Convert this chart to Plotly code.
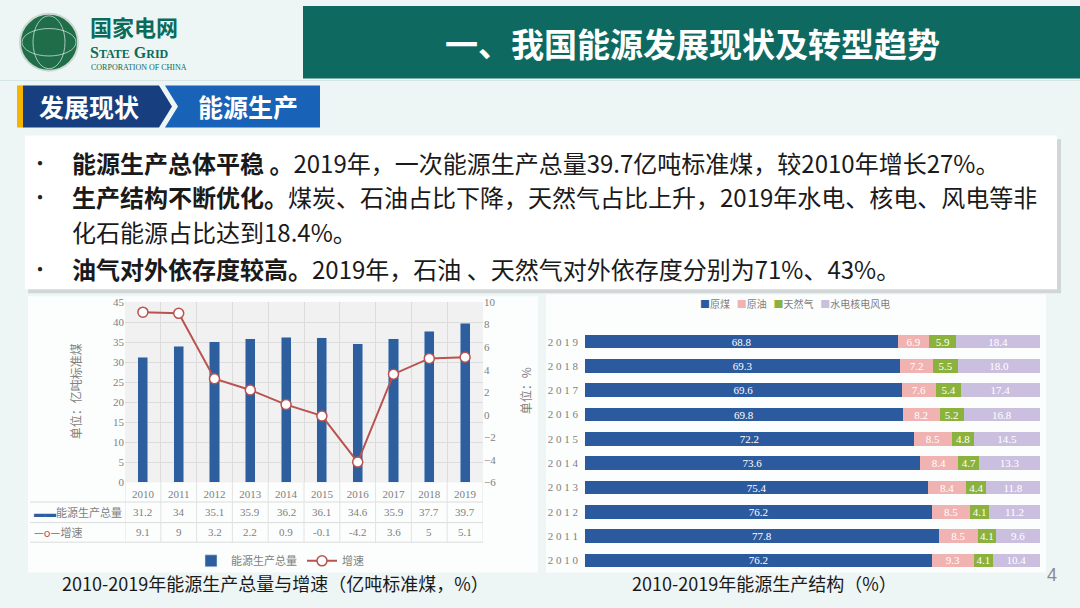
import plotly.graph_objects as go

# left chart: total primary energy production and growth
years = ["2010", "2011", "2012", "2013", "2014", "2015", "2016", "2017", "2018", "2019"]
output = [31.2, 34, 35.1, 35.9, 36.2, 36.1, 34.6, 35.9, 37.7, 39.7]
growth = [9.1, 9, 3.2, 2.2, 0.9, -0.1, -4.2, 3.6, 5, 5.1]

# right chart: production structure (%)
coal = [76.2, 77.8, 76.2, 75.4, 73.6, 72.2, 69.8, 69.6, 69.3, 68.8]
oil = [9.3, 8.5, 8.5, 8.4, 8.4, 8.5, 8.2, 7.6, 7.2, 6.9]
gas = [4.1, 4.1, 4.1, 4.4, 4.7, 4.8, 5.2, 5.4, 5.5, 5.9]
clean = [10.4, 9.6, 11.2, 11.8, 13.3, 14.5, 16.8, 17.4, 18.0, 18.4]

W, H = 1080, 608
def X(px):
    return px / W
def Y(py):
    return 1 - py / H

CJK = "Noto Sans CJK SC"
SERIF = "Liberation Serif, Noto Sans CJK SC"
GRAY = "#7f7f7f"

fig = go.Figure()

# --- left chart ---
fig.add_trace(go.Bar(
    x=years, y=output, name="能源生产总量",
    marker=dict(color="#2d5e9e"), width=0.28,
    xaxis="x", yaxis="y", legend="legend",
))
fig.add_trace(go.Scatter(
    x=years, y=growth, name="增速", mode="lines+markers",
    line=dict(color="#b9534f", width=2),
    marker=dict(symbol="circle", size=10, color="white",
                line=dict(color="#b9534f", width=1.5)),
    xaxis="x", yaxis="y2", legend="legend",
))

# --- right chart ---
segs = [("原煤", coal, "#2c5a9e"), ("原油", oil, "#f1b3b2"),
        ("天然气", gas, "#8bb23d"), ("水电核电风电", clean, "#cbbfe0")]
for name, vals, col in segs:
    fig.add_trace(go.Bar(
        y=years, x=vals, name=name, orientation="h",
        marker=dict(color=col, line=dict(width=0)), width=0.56,
        texttemplate="%{x:.1f}", textposition="inside", insidetextanchor="middle",
        constraintext="none",
        textfont=dict(family=SERIF, size=11, color="white"),
        xaxis="x3", yaxis="y3", showlegend=False,
    ))

shapes = []
ann = []

# slide decorations: header band
shapes.append(dict(type="rect", xref="paper", yref="paper", x0=X(303), x1=X(1080),
                   y0=Y(74), y1=Y(0), fillcolor="#0e6a61", line=dict(width=0), layer="below"))
shapes.append(dict(type="line", xref="paper", yref="paper", x0=0, x1=1, y0=Y(76), y1=Y(76),
                   line=dict(color="#d6e6e6", width=1), layer="below"))
ann.append(dict(text="<b>一、我国能源发展现状及转型趋势</b>", x=X(692), y=Y(38),
                font=dict(family=CJK, size=33, color="white")))

# logo
shapes.append(dict(type="circle", xref="paper", yref="paper", x0=X(20), x1=X(78), y0=Y(66), y1=Y(8),
                   fillcolor="#1f6e49", line=dict(color="#c9d9cf", width=2)))
shapes.append(dict(type="circle", xref="paper", yref="paper", x0=X(33), x1=X(65), y0=Y(64), y1=Y(10),
                   line=dict(color="rgba(255,255,255,0.6)", width=1)))
shapes.append(dict(type="circle", xref="paper", yref="paper", x0=X(22), x1=X(76), y0=Y(51), y1=Y(23),
                   line=dict(color="rgba(255,255,255,0.6)", width=1)))
ann.append(dict(text="<b>国家电网</b>", x=X(88), y=Y(20), xanchor="left",
                font=dict(family=CJK, size=22, color="#0b6b5a")))
ann.append(dict(text="<b>S<span style='font-size:12px'>TATE</span> G<span style='font-size:12px'>RID</span></b>",
                x=X(88), y=Y(47), xanchor="left",
                font=dict(family="Liberation Serif", size=16, color="#0b6b5a")))
ann.append(dict(text="CORPORATION OF CHINA", x=X(89), y=Y(63), xanchor="left",
                font=dict(family="Liberation Serif", size=8, color="#0b6b5a")))

# section tab
shapes.append(dict(type="rect", xref="paper", yref="paper", x0=X(17), x1=X(23), y0=Y(124), y1=Y(81),
                   fillcolor="#f4b400", line=dict(width=0)))
def path(pts):
    return "M " + " L ".join(f"{X(a):.5f},{Y(b):.5f}" for a, b in pts) + " Z"
shapes.append(dict(type="path", xref="paper", yref="paper",
                   path=path([(23, 81), (159, 81), (172, 102.5), (159, 124), (23, 124)]),
                   fillcolor="#173f7f", line=dict(width=0)))
shapes.append(dict(type="path", xref="paper", yref="paper",
                   path=path([(165, 81), (320, 81), (320, 124), (165, 124), (178, 102.5)]),
                   fillcolor="#1862b8", line=dict(width=0)))
ann.append(dict(text="<b>发展现状</b>", x=X(89), y=Y(102),
                font=dict(family=CJK, size=25, color="white")))
ann.append(dict(text="<b>能源生产</b>", x=X(248), y=Y(102),
                font=dict(family=CJK, size=25, color="white")))

# text box
shapes.append(dict(type="rect", xref="paper", yref="paper", x0=X(28), x1=X(1061), y0=Y(293), y1=Y(136),
                   fillcolor="rgba(0,0,0,0.12)", line=dict(width=0)))
shapes.append(dict(type="rect", xref="paper", yref="paper", x0=X(25), x1=X(1057), y0=Y(289), y1=Y(132),
                   fillcolor="white", line=dict(width=0)))
lines = [
    (160, True, "<b>能源生产总体平稳 。</b>2019年，一次能源生产总量39.7亿吨标准煤，较2010年增长27%。"),
    (194, True, "<b>生产结构不断优化。</b>煤炭、石油占比下降，天然气占比上升，2019年水电、核电、风电等非"),
    (230, False, "化石能源占比达到18.4%。"),
    (268, True, "<b>油气对外依存度较高。</b>2019年，石油 、天然气对外依存度分别为71%、43%。"),
]
for yy, bullet, txt in lines:
    if bullet:
        ann.append(dict(text="•", x=X(40), y=Y(yy),
                        font=dict(family=CJK, size=20, color="#222")))
    ann.append(dict(text=txt, x=X(70), y=Y(yy), xanchor="left",
                    font=dict(family=CJK, size=24, color="#1a1a1a")))

# chart panels
shapes.append(dict(type="rect", xref="paper", yref="paper", x0=X(28), x1=X(538), y0=Y(578), y1=Y(296),
                   fillcolor="rgba(255,255,255,0.8)", line=dict(width=0), layer="below"))
shapes.append(dict(type="rect", xref="paper", yref="paper", x0=X(546), x1=X(1046), y0=Y(578), y1=Y(294),
                   fillcolor="rgba(255,255,255,0.8)", line=dict(width=0), layer="below"))
shapes.append(dict(type="rect", xref="x domain", yref="y domain", x0=0, x1=1, y0=0, y1=1,
                   fillcolor="#f1f1f1", line=dict(width=0), layer="below"))

# data table under left chart
for py in [506, 527, 547]:
    shapes.append(dict(type="line", xref="paper", yref="paper", x0=X(30), x1=X(483), y0=Y(py), y1=Y(py),
                       line=dict(color="#dcdcdc", width=1)))
for i in range(len(years) + 1):
    shapes.append(dict(type="line", xref="x", yref="paper", x0=i - 0.5, x1=i - 0.5, y0=Y(547), y1=Y(486),
                       line=dict(color="#e2e2e2", width=1)))
for i, (v, g) in enumerate(zip(output, growth)):
    ann.append(dict(text=str(v), x=i, xref="x", y=Y(516.5),
                    font=dict(family=SERIF, size=11, color=GRAY)))
    ann.append(dict(text=str(g), x=i, xref="x", y=Y(537),
                    font=dict(family=SERIF, size=11, color=GRAY)))
ann.append(dict(text="<span style='color:#2d5e9e'><b>▬▬</b></span>能源生产总量", x=X(32), y=Y(516.5),
                xanchor="left", font=dict(family=CJK, size=11, color=GRAY)))
ann.append(dict(text="<span style='color:#b9534f'>—o—</span>增速", x=X(32), y=Y(537),
                xanchor="left", font=dict(family=CJK, size=11, color=GRAY)))

# axis titles
ann.append(dict(text="单位：亿吨标准煤", x=X(75), y=Y(393), textangle=-90,
                font=dict(family=CJK, size=12, color=GRAY)))
ann.append(dict(text="单位：%", x=X(525), y=Y(393), textangle=-90,
                font=dict(family=CJK, size=12, color=GRAY)))

# right chart legend
leg = "   ".join(f"<span style='color:{c}'>■</span>{n}" for n, _, c in segs)
ann.append(dict(text=leg, x=X(795), y=Y(303), font=dict(family=CJK, size=10, color=GRAY)))

# captions
ann.append(dict(text="2010-2019年能源生产总量与增速（亿吨标准煤，%）", x=X(275), y=Y(589),
                font=dict(family=CJK, size=18, color="#1a1a1a")))
ann.append(dict(text="2010-2019年能源生产结构（%）", x=X(764), y=Y(589),
                font=dict(family=CJK, size=18, color="#1a1a1a")))
ann.append(dict(text="4", x=X(1052), y=Y(580),
                font=dict(family="Liberation Sans", size=18, color="#8c8c8c")))

for a in ann:
    a.setdefault("xref", "paper")
    a.setdefault("yref", "paper")
    a.setdefault("xanchor", "center")
    a.setdefault("yanchor", "middle")
    a.setdefault("showarrow", False)

fig.update_layout(
    width=W, height=H, autosize=False,
    margin=dict(l=0, r=0, t=0, b=0),
    paper_bgcolor="#eef5f5", plot_bgcolor="rgba(0,0,0,0)",
    barmode="stack",
    shapes=shapes, annotations=ann,
    xaxis=dict(domain=[X(125), X(483)], anchor="y", type="category", range=[-0.5, len(years) - 0.5],
               tickson="boundaries", showgrid=True, gridcolor="#dcdcdc", ticks="",
               ticklabelstandoff=4,
               tickfont=dict(family=SERIF, size=11, color=GRAY), showline=False, zeroline=False),
    yaxis=dict(domain=[Y(486), Y(302)], range=[0, 45], dtick=5, showgrid=True, gridcolor="#dcdcdc",
               tickfont=dict(family=SERIF, size=11, color=GRAY), zeroline=False, ticks=""),
    yaxis2=dict(overlaying="y", side="right", anchor="x", range=[-6, 10], dtick=2, showgrid=False,
                tickfont=dict(family=SERIF, size=11, color=GRAY), zeroline=False, ticks=""),
    xaxis3=dict(domain=[X(585), X(1040)], anchor="y3", range=[0, 100], visible=False),
    yaxis3=dict(domain=[Y(578), Y(330)], anchor="x3", type="category",
                tickvals=years, ticktext=[" ".join(y) for y in years],
                tickfont=dict(family=SERIF, size=11, color=GRAY), showgrid=False, ticks="",
                ticklabelstandoff=6),
    legend=dict(orientation="h", x=X(280), y=Y(566), xanchor="center", yanchor="middle",
                bgcolor="rgba(0,0,0,0)", font=dict(family=CJK, size=11, color=GRAY),
                traceorder="normal"),
    bargap=0.3,
)

fig.write_html("out.html", config={"displayModeBar": False},
               post_script="document.body.style.margin='0';")
